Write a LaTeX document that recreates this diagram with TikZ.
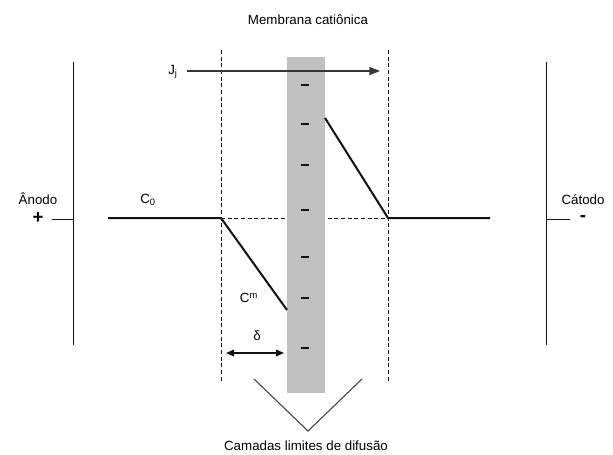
\documentclass[tikz,border=0pt]{standalone}
\usepackage{fontspec}
\setmainfont{Liberation Sans}
\usetikzlibrary{positioning,arrows.meta,calc}
\definecolor{membgray}{HTML}{C0C0C0}
\definecolor{inkdark}{HTML}{111111}

\begin{document}
\begin{tikzpicture}[x=0.75pt,y=-0.75pt,
  electrode/.style={draw=inkdark, line width=0.6pt},
  profile/.style={draw=inkdark, line width=1.5pt},
  guide/.style={draw=inkdark, line width=0.6pt, dash pattern=on 3pt off 2pt},
  lbl/.style={font=\fontsize{10}{12}\selectfont, inner sep=0pt},
  sign/.style={font=\fontsize{14}{14}\bfseries\selectfont, inner sep=0pt}]
\useasboundingbox (0,0) rectangle (613,454);
\coordinate (anodeTop) at (73,62);
\coordinate (anodeBot) at (73,345);
\coordinate (anodeLead) at (52,219);
\coordinate (anodeMid) at (73,219);
\coordinate (cathTop) at (546,62);
\coordinate (cathBot) at (546,345);
\coordinate (cathMid) at (546,219);
\coordinate (cathLead) at (570,219);
\coordinate (dlTop) at (221,50);
\coordinate (dlBot) at (221,382);
\coordinate (drTop) at (388,50);
\coordinate (drBot) at (388,382);
\coordinate (bulkL) at (108,218);
\coordinate (edgeL) at (221,218);
\coordinate (wallL) at (287,310);
\coordinate (wallR) at (325,118);
\coordinate (edgeR) at (388,218);
\coordinate (bulkR) at (490,218);
\coordinate (fluxA) at (187,71);
\coordinate (fluxB) at (380,71);
\coordinate (deltaA) at (226,353);
\coordinate (deltaB) at (284,353);
\coordinate (veeL) at (254,379);
\coordinate (veeB) at (308,431);
\coordinate (veeR) at (362,379);
\draw[electrode] (anodeTop) -- (anodeBot);
\draw[electrode] (anodeLead) -- (anodeMid);
\draw[electrode] (cathTop) -- (cathBot);
\draw[electrode] (cathMid) -- (cathLead);
\draw[guide] (dlTop) -- (dlBot);
\draw[guide] (drTop) -- (drBot);
\draw[guide] (edgeL) -- (edgeR);
\fill[membgray] (287,57) rectangle (325,393);
\foreach \yy in {85,124,165,210,257,298,348}
  \draw[line width=1.8pt, draw=inkdark] (301,\yy) -- (309,\yy);
\draw[profile] (bulkL) -- (edgeL) -- (wallL);
\draw[profile] (wallR) -- (edgeR) -- (bulkR);
\draw[draw=inkdark!85, line width=1.1pt, -{Triangle[length=8pt,width=6pt]}] (fluxA) -- (fluxB);
\draw[draw=inkdark, line width=1.1pt, {Triangle[length=6pt,width=5pt]}-{Triangle[length=6pt,width=5pt]}] (deltaA) -- (deltaB);
\draw[draw=inkdark!80, line width=0.8pt] (veeL) -- (veeB) -- (veeR);
\node[lbl] (membrana) at (308,20) {Membrana catiônica};
\node[lbl] (camadas) at (306,446) {Camadas limites de difusão};
\node[lbl] (anodo) at (38,199) {Ânodo};
\node[lbl] (catodo) at (583,200) {Cátodo};
\node[sign] (plus) at (38,218) {+};
\node[sign] (minus) at (583,219) {-};
\node[lbl] (conc0) at (148,200) {C\textsubscript{0}};
\node[lbl] (concm) at (249,298) {C\textsuperscript{m}};
\node[lbl] (flux) at (173,72) {J\textsubscript{j}};
\node[lbl] (delta) at (257,336) {δ};
\end{tikzpicture}
\end{document}
